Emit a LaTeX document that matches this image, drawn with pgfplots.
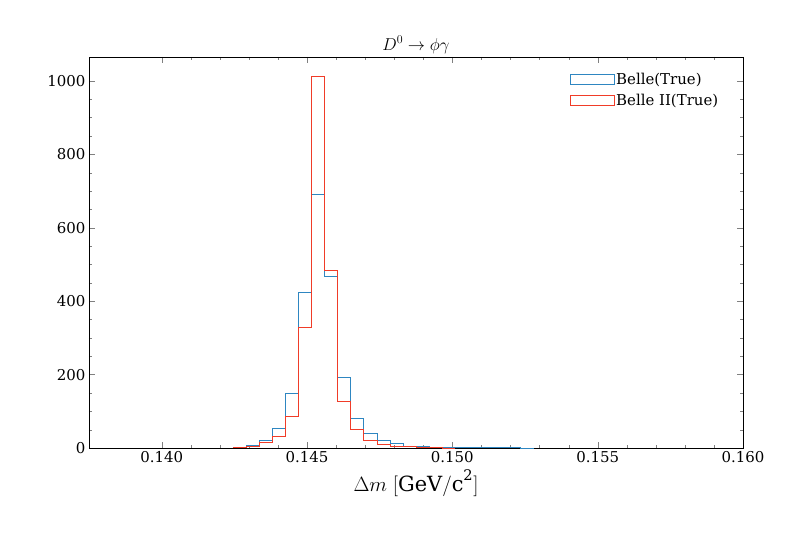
\documentclass[border=0pt]{standalone}
\usepackage{pgfplots}
\pgfplotsset{compat=1.18}
\usepackage{fontspec}
\setmainfont{DejaVu Serif}
\definecolor{cb}{HTML}{2E86C1}
\definecolor{cr}{HTML}{F03C28}
\begin{document}
\begin{tikzpicture}
\begin{axis}[
  width=654bp, height=391bp, scale only axis,
  xmin=0.1375, xmax=0.16, ymin=0, ymax=1065,
  xtick={0.140,0.145,0.150,0.155,0.160},
  xticklabels={0.140,0.145,0.150,0.155,0.160},
  ytick={0,200,400,600,800,1000},
  yticklabels={0,200,400,600,800,1000},
  minor x tick num=4, minor y tick num=3,
  tick align=inside, tick pos=both,
  major tick length=6bp, minor tick length=3bp,
  /pgf/number format/assume math mode=true,
  every tick label/.append style={font=\fontsize{15}{18}\selectfont},
  title={$D^0 \to \phi\gamma$}, title style={font=\fontsize{17}{20}\selectfont, yshift=-6bp},
  xlabel={$\Delta m\;[\mathrm{GeV/c^2}]$}, xlabel style={font=\fontsize{21}{24}\selectfont},
  legend style={draw=none, fill=none, at={(0.97,0.97)}, anchor=north east, font=\fontsize{15}{19}\selectfont,
    row sep=4bp},
  legend cell align=left,
  legend image code/.code={\draw[#1] (0bp,-5bp) rectangle (44bp,5bp);},
  every legend entry/.append style={xshift=12bp},
]
\addplot[cb, thin, const plot mark left] coordinates {
(0.14245,2)(0.1429,8)(0.14335,20)(0.1438,55)(0.14425,150)(0.1447,425)(0.14515,690)(0.1456,468)(0.14605,192)(0.1465,80)(0.14695,40)(0.1474,20)(0.14785,12)(0.1483,6)(0.14875,4)(0.1492,3)(0.14965,1)(0.1501,1)(0.15055,1)(0.151,1)(0.15145,1)(0.1519,1)(0.15235,0)(0.1528,0)};
\addlegendentry{Belle(True)}
\addplot[cr, thin, const plot mark left] coordinates {
(0.14245,3)(0.1429,5)(0.14335,15)(0.1438,33)(0.14425,87)(0.1447,328)(0.14515,1012)(0.1456,485)(0.14605,127)(0.1465,52)(0.14695,22)(0.1474,10)(0.14785,6)(0.1483,4)(0.14875,2)(0.1492,1)(0.14965,0)(0.1501,0)};
\addlegendentry{Belle II(True)}
\end{axis}
\pgfresetboundingbox
\path ([xshift=-89bp,yshift=-102bp]current axis.south west) rectangle ([xshift=57bp,yshift=57bp]current axis.north east);
\end{tikzpicture}
\end{document}
